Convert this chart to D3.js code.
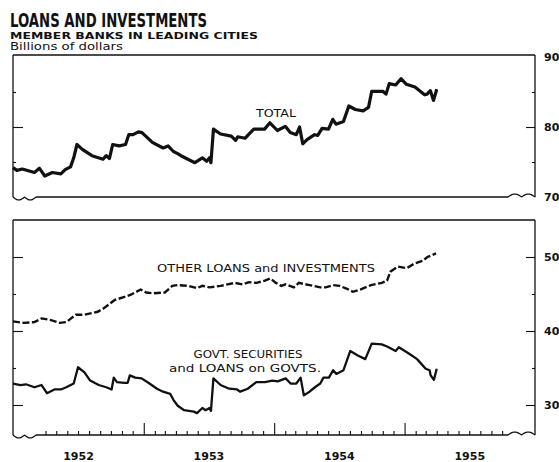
<!DOCTYPE html>
<html>
<head>
<meta charset="utf-8">
<script src="https://cdn.jsdelivr.net/npm/d3@7"></script>
<style>
  body { margin:0; background:#fff; }
  svg { display:block; }
  text { font-family:"DejaVu Sans", sans-serif; fill:#111; }
</style>
</head>
<body>
<svg id="chart" width="559" height="462"></svg>
<script>
// ---- data (billions of dollars, weekly figures thinned) ----
var totalDates=["1952-01-01","1952-01-12","1952-01-27","1952-03-01","1952-03-15","1952-03-30","1952-04-20","1952-05-14","1952-05-26","1952-06-10","1952-06-19","1952-06-28","1952-07-13","1952-08-09","1952-09-09","1952-09-18","1952-09-27","1952-10-06","1952-10-24","1952-11-11","1952-11-20","1952-12-02","1952-12-17","1952-12-27","1953-01-25","1953-02-24","1953-03-10","1953-03-25","1953-04-06","1953-04-15","1953-05-24","1953-06-14","1953-06-26","1953-07-04","1953-07-08","1953-07-15","1953-08-04","1953-09-03","1953-09-15","1953-09-21","1953-10-12","1953-10-21","1953-11-05","1953-12-05","1953-12-20","1954-01-10","1954-02-01","1954-02-15","1954-03-04","1954-03-13","1954-03-22","1954-04-03","1954-04-24","1954-05-03","1954-05-15","1954-06-02","1954-06-14","1954-06-23","1954-07-14","1954-07-29","1954-08-16","1954-09-07","1954-09-22","1954-10-01","1954-11-01","1954-11-10","1954-11-19","1954-12-07","1954-12-22","1955-01-06","1955-01-30","1955-02-26","1955-03-05","1955-03-14","1955-03-23","1955-04-01"];
var totalValues=[74.2,73.8,74.0,73.5,74.1,73.0,73.5,73.3,73.9,74.3,75.6,77.5,76.8,75.9,75.4,75.9,75.5,77.5,77.3,77.5,78.9,78.9,79.3,79.2,77.8,77.0,77.3,76.5,76.2,75.9,74.9,75.6,75.1,75.6,74.9,79.7,79.0,78.7,78.1,78.6,78.4,78.9,79.7,79.7,80.6,79.5,80.1,79.2,78.9,80.0,77.6,78.2,78.9,78.8,79.8,79.7,81.1,80.4,80.8,83.0,82.5,82.3,82.8,85.1,85.1,84.7,86.2,86.0,86.9,86.1,85.7,84.6,84.7,85.2,83.8,85.4];

var otherDates=["1952-01-01","1952-01-31","1952-03-01","1952-03-21","1952-04-14","1952-05-11","1952-05-29","1952-06-25","1952-07-19","1952-08-25","1952-09-12","1952-10-12","1952-11-08","1952-11-26","1952-12-23","1953-01-08","1953-01-26","1953-03-01","1953-03-22","1953-04-06","1953-05-06","1953-05-30","1953-06-14","1953-07-04","1953-08-04","1953-09-13","1953-10-04","1953-10-22","1953-11-12","1953-12-06","1953-12-21","1954-01-06","1954-01-21","1954-02-02","1954-02-25","1954-03-11","1954-04-10","1954-05-10","1954-05-25","1954-06-15","1954-07-03","1954-07-24","1954-08-09","1954-08-30","1954-09-29","1954-10-29","1954-11-13","1954-11-22","1954-12-13","1955-01-07","1955-01-28","1955-02-21","1955-03-06","1955-03-30"];
var otherValues=[41.3,41.1,41.2,41.7,41.5,41.1,41.2,42.2,42.2,42.6,43.1,44.2,44.6,44.9,45.6,45.2,45.1,45.2,46.1,46.2,46.1,45.8,46.1,45.9,46.1,46.5,46.3,46.6,46.5,46.8,47.1,46.5,46.1,46.3,45.9,46.5,46.2,45.9,45.9,46.2,46.1,45.7,45.3,45.6,46.2,46.5,46.8,48.0,48.7,48.5,49.1,49.5,50.0,50.5];

var govtDates=["1952-01-01","1952-01-22","1952-02-06","1952-03-01","1952-03-21","1952-04-05","1952-04-26","1952-05-14","1952-05-29","1952-06-19","1952-07-01","1952-07-19","1952-08-04","1952-08-28","1952-09-18","1952-10-03","1952-10-09","1952-10-18","1952-11-08","1952-11-17","1952-11-23","1952-12-08","1952-12-26","1953-01-17","1953-02-07","1953-02-24","1953-03-16","1953-03-25","1953-04-06","1953-04-24","1953-05-21","1953-05-30","1953-06-14","1953-06-23","1953-07-04","1953-07-08","1953-07-15","1953-08-04","1953-08-28","1953-09-19","1953-09-28","1953-10-19","1953-11-12","1953-12-06","1953-12-27","1954-01-11","1954-02-02","1954-02-16","1954-03-04","1954-03-16","1954-03-25","1954-04-10","1954-04-25","1954-05-10","1954-05-19","1954-06-03","1954-06-15","1954-06-24","1954-07-14","1954-08-02","1954-08-23","1954-09-13","1954-10-01","1954-10-29","1954-11-13","1954-12-07","1954-12-16","1955-01-15","1955-02-05","1955-03-01","1955-03-12","1955-03-15","1955-03-24","1955-04-01"];
var govtValues=[32.9,32.7,32.8,32.4,32.7,31.6,32.1,32.1,32.4,32.9,35.1,34.4,33.3,32.7,32.4,32.1,33.7,33.1,33.0,33.0,34.0,33.7,33.6,32.9,32.2,31.8,31.5,30.7,29.9,29.3,29.1,28.9,29.6,29.3,29.6,29.2,33.6,32.7,32.2,32.1,31.8,32.2,33.1,33.1,33.3,33.2,33.6,32.9,32.9,33.7,31.3,31.8,32.4,32.9,33.7,33.7,34.7,34.2,34.7,37.3,36.7,36.2,38.3,38.2,37.9,37.3,37.8,36.9,36.2,34.9,34.7,34.0,33.4,34.9];

var topTicks=[70,80,90];
var bottomTicks=[30,40,50];
var yearLabels=["1952","1953","1954","1955"];

var parse=d3.timeParse("%Y-%m-%d");
var zip=function(dates,values){
  return dates.map(function(d,i){return {date:parse(d),value:values[i]};});
};

var svg=d3.select("#chart");

// horizontal time scale, Jan 1952 to end of 1955
var xScale=d3.scaleTime()
  .domain([parse("1952-01-01"),parse("1956-01-01")])
  .range([13,535]);
var left=13, right=535;

// two panels
var topPanel={top:55,bottom:197};
var botPanel={top:220,bottom:435};
var yTop=d3.scaleLinear().domain([70,90]).range([197,57]);
var yBot=d3.scaleLinear().domain([30,50]).range([405,257]);

var frame=svg.append("g").attr("stroke","#111").attr("stroke-width",1.3).attr("fill","none");

// wavy break at both ends of a baseline
var wave=function(x0,x1,y,dir){
  var pts=[];
  for(var i=0;i<=24;i++){
    var t=i/24;
    pts.push([x0+(x1-x0)*t, y+dir*3*Math.abs(Math.sin(t*2*Math.PI))]);
  }
  return d3.line().curve(d3.curveBasis)(pts);
};
var drawFrame=function(p){
  frame.append("line").attr("x1",left).attr("x2",right).attr("y1",p.top).attr("y2",p.top);
  frame.append("line").attr("x1",left).attr("x2",left).attr("y1",p.top).attr("y2",p.bottom);
  frame.append("line").attr("x1",right).attr("x2",right).attr("y1",p.top).attr("y2",p.bottom);
  frame.append("line").attr("x1",36).attr("x2",508).attr("y1",p.bottom).attr("y2",p.bottom);
  frame.append("path").attr("d",wave(left,36,p.bottom,1));
  frame.append("path").attr("d",wave(508,right,p.bottom,-1));
};
drawFrame(topPanel);
drawFrame(botPanel);

// y axes: labels on the right, ticks pointing inward on both sides
var yAxes=function(scale,majors,minors){
  svg.append("g").attr("transform","translate("+right+",0)")
    .call(d3.axisRight(scale).tickValues(majors).tickSize(-9).tickPadding(9).tickFormat(d3.format("d")))
    .call(function(g){g.select(".domain").remove();});
  svg.append("g").attr("transform","translate("+right+",0)")
    .call(d3.axisRight(scale).tickValues(minors).tickSize(-3).tickFormat(""))
    .call(function(g){g.select(".domain").remove();});
  svg.append("g").attr("transform","translate("+left+",0)")
    .call(d3.axisLeft(scale).tickValues(majors).tickSize(-10).tickFormat(""))
    .call(function(g){g.select(".domain").remove();});
  svg.append("g").attr("transform","translate("+left+",0)")
    .call(d3.axisLeft(scale).tickValues(minors).tickSize(-3).tickFormat(""))
    .call(function(g){g.select(".domain").remove();});
};
yAxes(yTop,[80],[75,85]);
yAxes(yBot,bottomTicks,[35,45]);
// labels at the panel corners (90, 70) come from the same scale
svg.append("g").attr("transform","translate("+right+",0)")
  .call(d3.axisRight(yTop).tickValues(topTicks.filter(function(v){return v!==80;})).tickSize(0).tickPadding(9).tickFormat(d3.format("d")))
  .call(function(g){g.select(".domain").remove();});

svg.selectAll(".tick text").attr("font-size",11).attr("font-weight","bold").attr("font-family","DejaVu Sans").attr("fill","#111");
svg.selectAll(".tick line").attr("stroke","#111").attr("stroke-width",1.3);

// x axis along the bottom of the lower panel
var monthTicks=d3.timeMonth.range(parse("1952-02-01"),parse("1955-12-01")).filter(function(d){return d.getMonth()!==0;});
svg.append("g").attr("transform","translate(0,"+botPanel.bottom+")")
  .call(d3.axisBottom(xScale).tickValues(monthTicks.filter(function(d){return xScale(d)>36&&xScale(d)<508;})).tickSize(-4).tickFormat(""))
  .call(function(g){g.select(".domain").remove();});
svg.append("g").attr("transform","translate(0,"+botPanel.bottom+")")
  .call(d3.axisBottom(xScale).tickValues(d3.timeYear.range(parse("1953-01-01"),parse("1956-01-01"))).tickSize(-12).tickFormat(""))
  .call(function(g){g.select(".domain").remove();});
svg.append("g").attr("transform","translate(0,"+botPanel.bottom+")")
  .call(d3.axisBottom(xScale).tickValues(yearLabels.map(function(y){return parse(y+"-07-01");})).tickSize(0).tickPadding(17).tickFormat(d3.timeFormat("%Y")))
  .call(function(g){g.select(".domain").remove();})
  .selectAll("text").attr("font-size",11).attr("font-weight","bold").attr("fill","#111");
svg.selectAll(".tick line").attr("stroke","#111").attr("stroke-width",1.1);

// series
var lineTop=d3.line().x(function(d){return xScale(d.date);}).y(function(d){return yTop(d.value);});
var lineBot=d3.line().x(function(d){return xScale(d.date);}).y(function(d){return yBot(d.value);});

svg.append("path").datum(zip(totalDates,totalValues))
  .attr("d",lineTop).attr("fill","none").attr("stroke","#111").attr("stroke-width",3.2).attr("stroke-linejoin","round");
svg.append("path").datum(zip(otherDates,otherValues))
  .attr("d",lineBot).attr("fill","none").attr("stroke","#111").attr("stroke-width",2.4).attr("stroke-dasharray","7,2.5");
svg.append("path").datum(zip(govtDates,govtValues))
  .attr("d",lineBot).attr("fill","none").attr("stroke","#111").attr("stroke-width",2.3).attr("stroke-linejoin","round");

// titles
svg.append("text").attr("x",10).attr("y",27).attr("font-size",19).attr("font-weight","bold")
  .attr("textLength",197).attr("lengthAdjust","spacingAndGlyphs").text("LOANS AND INVESTMENTS");
svg.append("text").attr("x",10).attr("y",38.5).attr("font-size",9.2).attr("font-weight","bold")
  .attr("font-family","Liberation Sans")
  .attr("textLength",248).attr("lengthAdjust","spacingAndGlyphs").text("MEMBER BANKS IN LEADING CITIES");
svg.append("text").attr("x",10).attr("y",49.8).attr("font-size",9.8)
  .attr("font-family","Liberation Sans")
  .attr("textLength",113).attr("lengthAdjust","spacingAndGlyphs").text("Billions of dollars");

// series labels
var label=function(x,y,w,s){
  svg.append("text").attr("x",x).attr("y",y).attr("text-anchor","middle").attr("font-size",11)
    .attr("textLength",w).attr("lengthAdjust","spacingAndGlyphs").text(s);
};
label(276,117,40,"TOTAL");
label(266,272,218,"OTHER LOANS and INVESTMENTS");
label(248,358,109,"GOVT. SECURITIES");
label(245,372,152,"and LOANS on GOVTS.");
</script>
</body>
</html>
